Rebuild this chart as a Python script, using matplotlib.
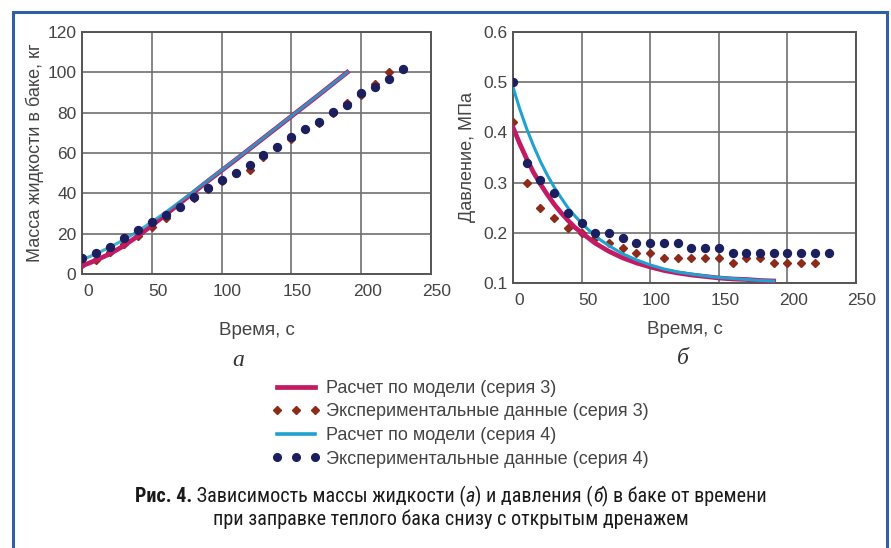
import matplotlib
matplotlib.use("Agg")
import matplotlib.pyplot as plt
import matplotlib.transforms as mtransforms
from matplotlib import font_manager
from matplotlib.lines import Line2D
from matplotlib.patches import Rectangle

# ---- данные (а): масса жидкости в баке, кг ----
t_model = [0, 10, 20, 30, 40, 50, 60, 70, 80, 90, 100,
           110, 120, 130, 140, 150, 160, 170, 180, 190]
mass_model_3 = [4, 6.8, 10, 14, 18.8, 24, 29.5, 35, 40.5, 46, 51.3,
                56.6, 62, 67.4, 72.8, 78.2, 83.6, 89, 94.5, 100]
mass_model_4 = [7, 10, 13.3, 17, 21.2, 25.8, 30.7, 35.8, 41, 46.2, 51.5,
                56.8, 62.1, 67.5, 72.9, 78.3, 83.7, 89.1, 94.5, 100]

t_exp_3 = [0, 10, 20, 30, 40, 50, 60, 70, 80, 90, 100, 110,
           120, 130, 140, 150, 160, 170, 180, 190, 200, 210, 220]
mass_exp_3 = [5, 7, 11, 15, 19, 23.5, 28, 33, 37.5, 42, 46, 50,
              51.5, 58, 63, 67, 72, 75, 80, 85, 89, 94, 100]
t_exp_4 = [0, 10, 20, 30, 40, 50, 60, 70, 80, 90, 100, 110,
           120, 130, 140, 150, 160, 170, 180, 190, 200, 210, 220, 230]
mass_exp_4 = [7.8, 10.3, 13.5, 17.7, 21.8, 25.9, 29.2, 33.4, 38.3, 42.5, 46.6, 49.9,
              54, 59, 63.1, 67.8, 71.9, 75.5, 80.5, 83.8, 89.6, 92.6, 96.7, 101.5]

# ---- данные (б): давление, МПа ----
t_model_p = [0, 5, 10, 15, 20, 25, 30, 35, 40, 45, 50, 60, 70, 80, 90, 100,
             110, 120, 130, 140, 150, 160, 170, 180, 190]
p_model_3 = [0.41, 0.377, 0.347, 0.320, 0.297, 0.276, 0.257, 0.240, 0.225, 0.211, 0.200,
             0.179, 0.163, 0.150, 0.140, 0.132, 0.125, 0.120, 0.116, 0.113, 0.110,
             0.108, 0.107, 0.105, 0.104]
p_model_4 = [0.49, 0.446, 0.407, 0.373, 0.342, 0.315, 0.291, 0.270, 0.250, 0.234, 0.219,
             0.193, 0.174, 0.158, 0.146, 0.136, 0.128, 0.122, 0.118, 0.114, 0.111,
             0.109, 0.107, 0.105, 0.104]
p_exp_3 = [0.42, 0.30, 0.25, 0.23, 0.21, 0.20, 0.19, 0.18, 0.17, 0.16, 0.16, 0.15,
           0.15, 0.15, 0.15, 0.15, 0.14, 0.15, 0.15, 0.14, 0.14, 0.14, 0.14]
p_exp_4 = [0.50, 0.34, 0.305, 0.28, 0.24, 0.22, 0.20, 0.20, 0.19, 0.18, 0.18, 0.18,
           0.18, 0.17, 0.17, 0.17, 0.16, 0.16, 0.16, 0.16, 0.16, 0.16, 0.16, 0.16]

x_ticks = [0, 50, 100, 150, 200, 250]
mass_ticks = [0, 20, 40, 60, 80, 100, 120]
p_ticks = [0.1, 0.2, 0.3, 0.4, 0.5, 0.6]

labels = ["Расчет по модели (серия 3)",
          "Экспериментальные данные (серия 3)",
          "Расчет по модели (серия 4)",
          "Экспериментальные данные (серия 4)"]

c_mod3 = "#c21a63"
c_exp3 = "#8e2a1a"
c_mod4 = "#1fa2cf"
c_exp4 = "#1c1f5e"
txt = "#444444"

plt.rcParams["font.family"] = ["Liberation Sans", "DejaVu Sans"]

W, H = 891, 548
fig = plt.figure(figsize=(W / 100, H / 100), dpi=100)


def fx(px):
    return px / W


def fy(py):
    return 1 - py / H


# рамка
fig.patches.append(Rectangle((fx(13), -0.1), fx(887) - fx(13), fy(12) + 0.1,
                             transform=fig.transFigure, fill=False,
                             edgecolor="#2f5fa5", linewidth=2.2, clip_on=False))

ax1 = fig.add_axes([fx(82), fy(274), fx(431) - fx(82), (274 - 32) / H])
ax2 = fig.add_axes([fx(513), fy(283), fx(856) - fx(513), (283 - 32) / H])

ax1.plot(t_exp_3, mass_exp_3, "D", color=c_exp3, ms=3.8, zorder=3)
ax1.plot(t_model, mass_model_3, "-", color=c_mod3, lw=3.4, zorder=4)
ax1.plot(t_model, mass_model_4, "-", color=c_mod4, lw=2.2, alpha=0.85, zorder=5)
ax1.plot(t_exp_4, mass_exp_4, "o", color=c_exp4, ms=5.7, zorder=6)

ax2.plot(t_exp_3, p_exp_3, "D", color=c_exp3, ms=3.8, zorder=3)
ax2.plot(t_model_p, p_model_3, "-", color=c_mod3, lw=3.4, zorder=4)
ax2.plot(t_model_p, p_model_4, "-", color=c_mod4, lw=2.2, zorder=5)
ax2.plot(t_exp_4, p_exp_4, "o", color=c_exp4, ms=5.7, zorder=6)

ax1.set_xlim(0, 250)
ax1.set_ylim(0, 120)
ax1.set_yticks(mass_ticks)
ax2.set_xlim(0, 250)
ax2.set_ylim(0.1, 0.6)
ax2.set_yticks(p_ticks)
ax2.set_yticklabels([f"{v:.1f}" for v in p_ticks])

shift = mtransforms.ScaledTranslation(6 / 100, 0, fig.dpi_scale_trans)
for ax in (ax1, ax2):
    ax.set_xticks(x_ticks)
    ax.set_axisbelow(True)
    ax.grid(True, color="#707070", lw=1.2)
    ax.tick_params(length=0, labelsize=12.5, labelcolor=txt)
    ax.tick_params(axis="x", pad=7)
    ax.tick_params(axis="y", pad=4)
    for s in ax.spines.values():
        s.set_color("#555555")
        s.set_linewidth(1.4)
    for lab in ax.get_xticklabels():
        lab.set_transform(lab.get_transform() + shift)

ax1.set_ylabel("Масса жидкости в баке, кг", fontsize=13, color=txt)
ax1.yaxis.set_label_coords(-0.109, 0.5)
ax2.set_ylabel("Давление, МПа", fontsize=13, color=txt)
ax2.yaxis.set_label_coords(-0.108, 0.5)
ax1.set_xlabel("Время, с", fontsize=13.5, color=txt)
ax1.xaxis.set_label_coords(0.5, -0.2)
ax2.set_xlabel("Время, с", fontsize=13.5, color=txt)
ax2.xaxis.set_label_coords(0.5, -0.15)

fig.text(fx(238), fy(361), "а", fontsize=17, family="Liberation Serif",
         style="italic", color="#333333", ha="center", va="center")
fig.text(fx(683), fy(358), "б", fontsize=17, family="Liberation Serif",
         style="italic", color="#333333", ha="center", va="center")

handles = [Line2D([], [], color=c_mod3, lw=3.4),
           Line2D([], [], color=c_exp3, marker="D", ms=3.8, ls="none"),
           Line2D([], [], color=c_mod4, lw=2.6),
           Line2D([], [], color=c_exp4, marker="o", ms=5.5, ls="none")]
fig.legend(handles, labels, loc="upper left", bbox_to_anchor=(fx(272), fy(380)),
           frameon=False, fontsize=13, labelcolor=txt, numpoints=3,
           handlelength=2.7, handletextpad=0.3, labelspacing=0.36,
           borderpad=0, borderaxespad=0)

# подпись
names = {f.name for f in font_manager.fontManager.ttflist}
cap_family = "DejaVu Sans"
for cand in ["Liberation Sans Narrow", "Roboto Condensed", "Open Sans Condensed",
             "DejaVu Sans"]:
    if cand in names:
        cap_family = cand
        break


def put_runs(runs, y_px, xc_px, size):
    r = fig.canvas.get_renderer()
    items = []
    total = 0
    for s, weight, style in runs:
        t = fig.text(0, fy(y_px), s, fontsize=size, family=[cap_family, "DejaVu Sans"],
                     fontweight=weight, fontstyle=style, fontstretch="condensed",
                     color="#1a1a1a", ha="left", va="center")
        w = t.get_window_extent(r).width
        items.append((t, w))
        total += w
    x = xc_px - total / 2
    for t, w in items:
        t.set_x(fx(x))
        x += w


put_runs([("Рис. 4.", "bold", "normal"),
          (" Зависимость массы жидкости (", "normal", "normal"),
          ("а", "normal", "italic"),
          (") и давления (", "normal", "normal"),
          ("б", "normal", "italic"),
          (") в баке от времени", "normal", "normal")], 496, 451, 14.5)
put_runs([("при заправке теплого бака снизу с открытым дренажем", "normal", "normal")],
         519, 451, 14.5)

fig.savefig("out.png", dpi=100)
